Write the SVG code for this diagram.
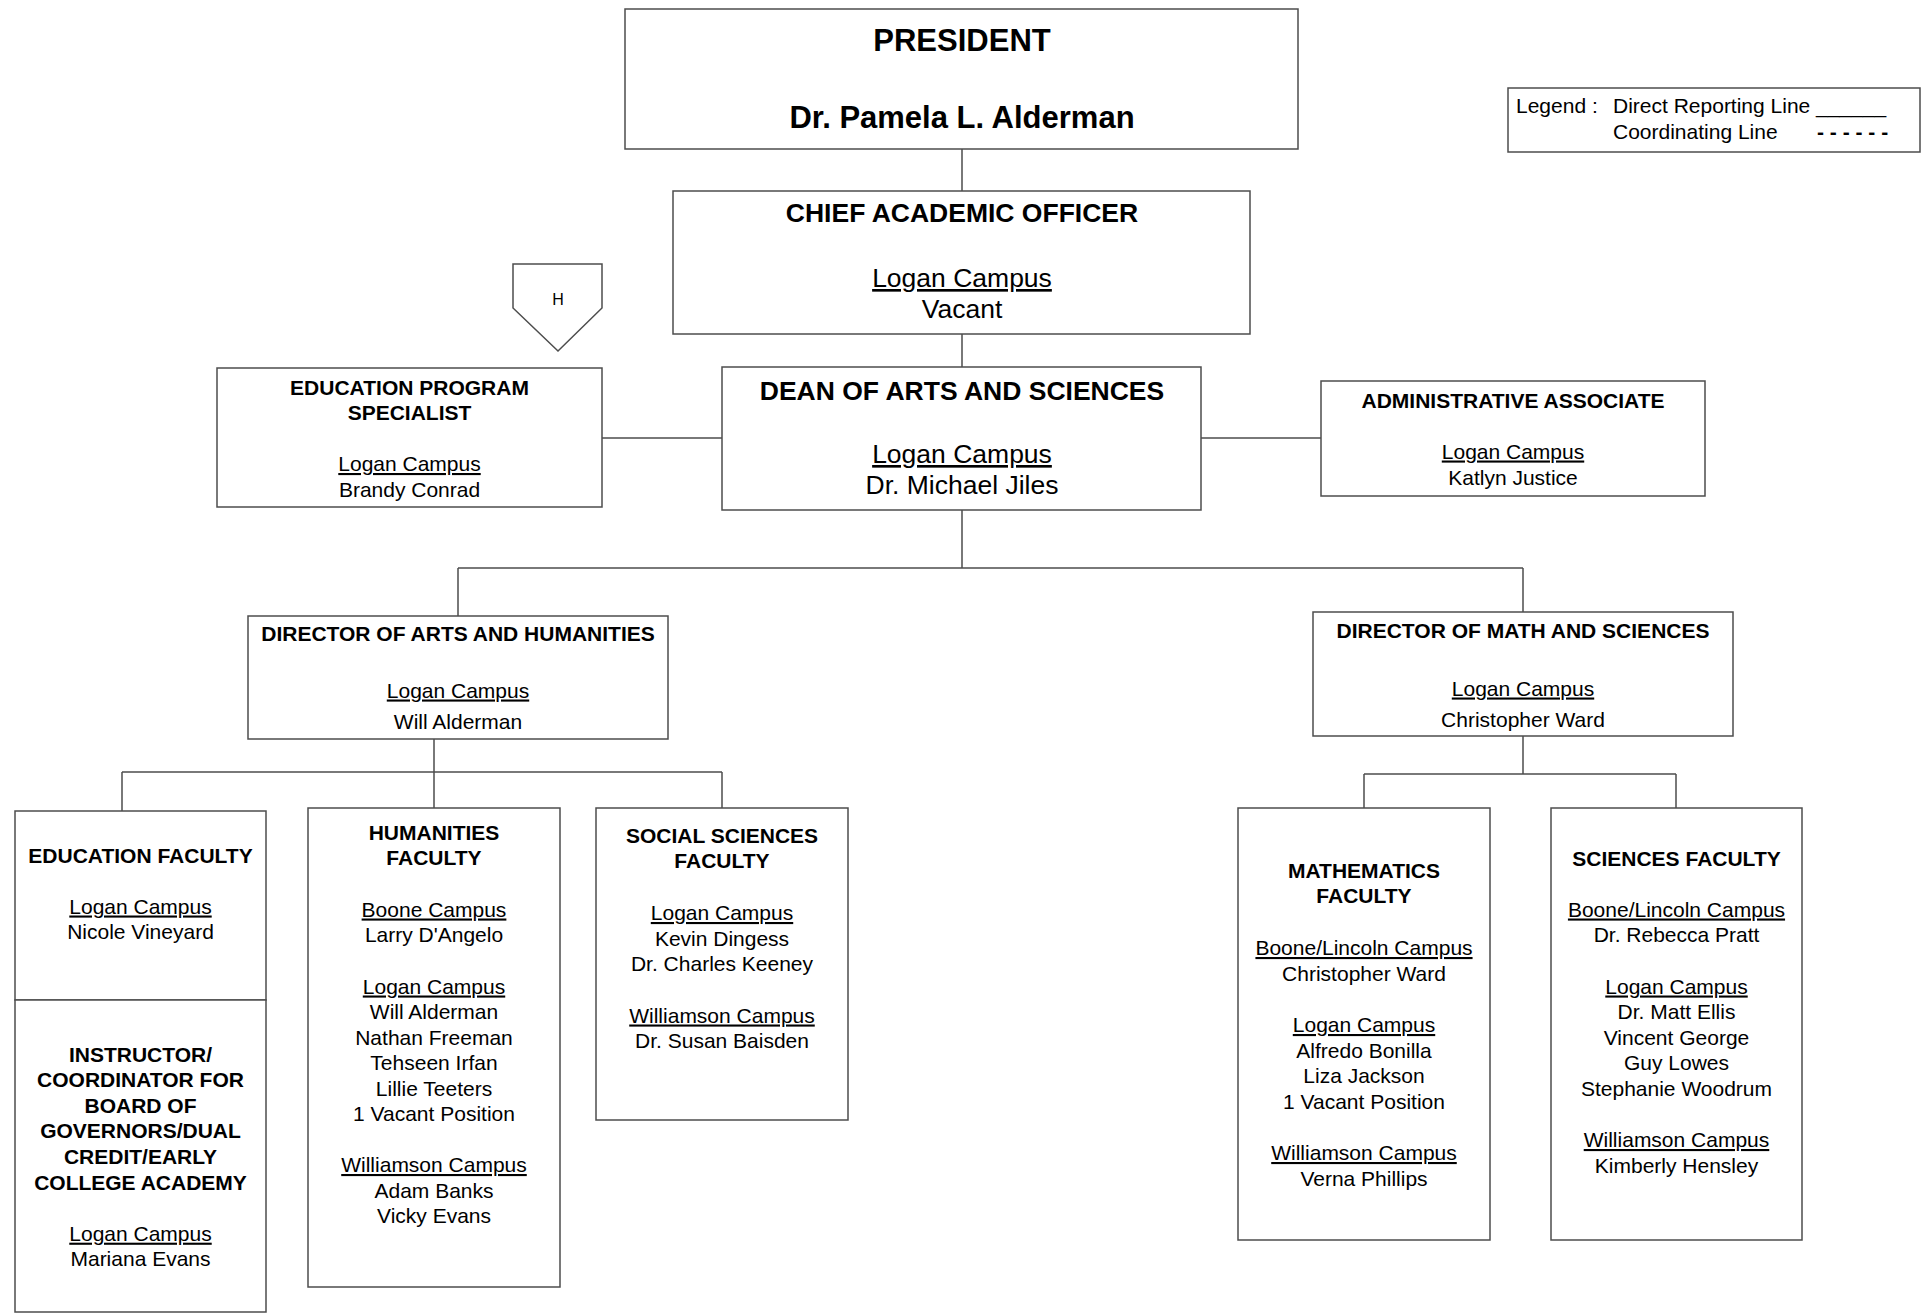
<svg xmlns="http://www.w3.org/2000/svg" width="1923" height="1314" viewBox="0 0 1923 1314">
<style>
.box{fill:#fff;stroke:#4d4d4d;stroke-width:1.5}
.ln{fill:none;stroke:#4d4d4d;stroke-width:1.5}
text{font-family:"Liberation Sans",Arial,sans-serif;fill:#000;text-anchor:middle}
.b{font-weight:bold}
.u{text-decoration:underline}
.s21{font-size:21px}
.s26{font-size:26.5px}
.s31{font-size:31px}
.lg{font-size:21px;text-anchor:start}
</style>
<rect width="1923" height="1314" fill="#fff"/>
<g id="connectors">
<path class="ln" d="M962 149V191M962 334V367M602 438H722M1201 438H1321M962 510V568M458 568H1523M458 568V616M1523 568V612"/>
<path class="ln" d="M434 739V772M122 772H722M122 772V811M434 772V808M722 772V808"/>
<path class="ln" d="M1523 736V774M1364 774H1676M1364 774V808M1676 774V808"/>
</g>
<g id="president">
<rect class="box" x="625" y="9" width="673" height="140"/>
<text class="b s31" x="962" y="51">PRESIDENT</text>
<text class="b s31" x="962" y="128">Dr. Pamela L. Alderman</text>
</g>
<g id="legend">
<rect class="box" x="1508" y="88" width="412" height="64"/>
<text class="lg" x="1516" y="113">Legend :</text>
<text class="lg" x="1613" y="113">Direct Reporting Line</text>
<text class="lg" x="1816" y="113">______</text>
<text class="lg" x="1613" y="139">Coordinating Line</text>
<text class="lg b" x="1817" y="139">- - - - - -</text>
</g>
<g id="cao">
<rect class="box" x="673" y="191" width="577" height="143"/>
<text class="b s26" x="962" y="222">CHIEF ACADEMIC OFFICER</text>
<text class="s26 u" x="962" y="287">Logan Campus</text>
<text class="s26" x="962" y="318">Vacant</text>
</g>
<g id="h-marker">
<polygon class="box" points="513,264 602,264 602,308 558,351 513,308"/>
<text x="558" y="305" style="font-size:16px">H</text>
</g>
<g id="eps">
<rect class="box" x="217" y="368" width="385" height="139"/>
<text class="b s21" x="409.5" y="394.5">EDUCATION PROGRAM</text>
<text class="b s21" x="409.5" y="420">SPECIALIST</text>
<text class="s21 u" x="409.5" y="471">Logan Campus</text>
<text class="s21" x="409.5" y="496.5">Brandy Conrad</text>
</g>
<g id="dean">
<rect class="box" x="722" y="367" width="479" height="143"/>
<text class="b s26" x="962" y="399.5">DEAN OF ARTS AND SCIENCES</text>
<text class="s26 u" x="962" y="463">Logan Campus</text>
<text class="s26" x="962" y="494">Dr. Michael Jiles</text>
</g>
<g id="admin">
<rect class="box" x="1321" y="381" width="384" height="115"/>
<text class="b s21" x="1513" y="407.5">ADMINISTRATIVE ASSOCIATE</text>
<text class="s21 u" x="1513" y="458.5">Logan Campus</text>
<text class="s21" x="1513" y="484.5">Katlyn Justice</text>
</g>
<g id="dir-arts">
<rect class="box" x="248" y="616" width="420" height="123"/>
<text class="b s21" x="458" y="640.5">DIRECTOR OF ARTS AND HUMANITIES</text>
<text class="s21 u" x="458" y="697.5">Logan Campus</text>
<text class="s21" x="458" y="728.5">Will Alderman</text>
</g>
<g id="dir-math">
<rect class="box" x="1313" y="612" width="420" height="124"/>
<text class="b s21" x="1523" y="637.5">DIRECTOR OF MATH AND SCIENCES</text>
<text class="s21 u" x="1523" y="695.5">Logan Campus</text>
<text class="s21" x="1523" y="726.5">Christopher Ward</text>
</g>
<g id="edu-faculty">
<rect class="box" x="15" y="811" width="251" height="189"/>
<text class="b s21" x="140.5" y="862.5">EDUCATION FACULTY</text>
<text class="s21 u" x="140.5" y="913.5">Logan Campus</text>
<text class="s21" x="140.5" y="939">Nicole Vineyard</text>
</g>
<g id="instructor">
<rect class="box" x="15" y="1000" width="251" height="312"/>
<text class="b s21" x="140.5" y="1061.5">INSTRUCTOR/</text>
<text class="b s21" x="140.5" y="1087.1">COORDINATOR FOR</text>
<text class="b s21" x="140.5" y="1112.7">BOARD OF</text>
<text class="b s21" x="140.5" y="1138.3">GOVERNORS/DUAL</text>
<text class="b s21" x="140.5" y="1163.9">CREDIT/EARLY</text>
<text class="b s21" x="140.5" y="1189.5">COLLEGE ACADEMY</text>
<text class="s21 u" x="140.5" y="1240.7">Logan Campus</text>
<text class="s21" x="140.5" y="1266.3">Mariana Evans</text>
</g>
<g id="humanities">
<rect class="box" x="308" y="808" width="252" height="479"/>
<text class="b s21" x="434" y="839.5">HUMANITIES</text>
<text class="b s21" x="434" y="864.5">FACULTY</text>
<text class="s21 u" x="434" y="916.5">Boone Campus</text>
<text class="s21" x="434" y="942">Larry D'Angelo</text>
<text class="s21 u" x="434" y="993.5">Logan Campus</text>
<text class="s21" x="434" y="1019">Will Alderman</text>
<text class="s21" x="434" y="1044.5">Nathan Freeman</text>
<text class="s21" x="434" y="1070">Tehseen Irfan</text>
<text class="s21" x="434" y="1095.5">Lillie Teeters</text>
<text class="s21" x="434" y="1121">1 Vacant Position</text>
<text class="s21 u" x="434" y="1172">Williamson Campus</text>
<text class="s21" x="434" y="1197.5">Adam Banks</text>
<text class="s21" x="434" y="1223">Vicky Evans</text>
</g>
<g id="social-sciences">
<rect class="box" x="596" y="808" width="252" height="312"/>
<text class="b s21" x="722" y="842.5">SOCIAL SCIENCES</text>
<text class="b s21" x="722" y="868">FACULTY</text>
<text class="s21 u" x="722" y="920">Logan Campus</text>
<text class="s21" x="722" y="945.5">Kevin Dingess</text>
<text class="s21" x="722" y="971">Dr. Charles Keeney</text>
<text class="s21 u" x="722" y="1022.5">Williamson Campus</text>
<text class="s21" x="722" y="1048">Dr. Susan Baisden</text>
</g>
<g id="mathematics">
<rect class="box" x="1238" y="808" width="252" height="432"/>
<text class="b s21" x="1364" y="877.5">MATHEMATICS</text>
<text class="b s21" x="1364" y="903">FACULTY</text>
<text class="s21 u" x="1364" y="955">Boone/Lincoln Campus</text>
<text class="s21" x="1364" y="980.5">Christopher Ward</text>
<text class="s21 u" x="1364" y="1032">Logan Campus</text>
<text class="s21" x="1364" y="1057.5">Alfredo Bonilla</text>
<text class="s21" x="1364" y="1083">Liza Jackson</text>
<text class="s21" x="1364" y="1108.5">1 Vacant Position</text>
<text class="s21 u" x="1364" y="1160">Williamson Campus</text>
<text class="s21" x="1364" y="1185.5">Verna Phillips</text>
</g>
<g id="sciences">
<rect class="box" x="1551" y="808" width="251" height="432"/>
<text class="b s21" x="1676.5" y="865.5">SCIENCES FACULTY</text>
<text class="s21 u" x="1676.5" y="916.5">Boone/Lincoln Campus</text>
<text class="s21" x="1676.5" y="942">Dr. Rebecca Pratt</text>
<text class="s21 u" x="1676.5" y="993.5">Logan Campus</text>
<text class="s21" x="1676.5" y="1019">Dr. Matt Ellis</text>
<text class="s21" x="1676.5" y="1044.5">Vincent George</text>
<text class="s21" x="1676.5" y="1070">Guy Lowes</text>
<text class="s21" x="1676.5" y="1095.5">Stephanie Woodrum</text>
<text class="s21 u" x="1676.5" y="1147">Williamson Campus</text>
<text class="s21" x="1676.5" y="1172.5">Kimberly Hensley</text>
</g>
</svg>
